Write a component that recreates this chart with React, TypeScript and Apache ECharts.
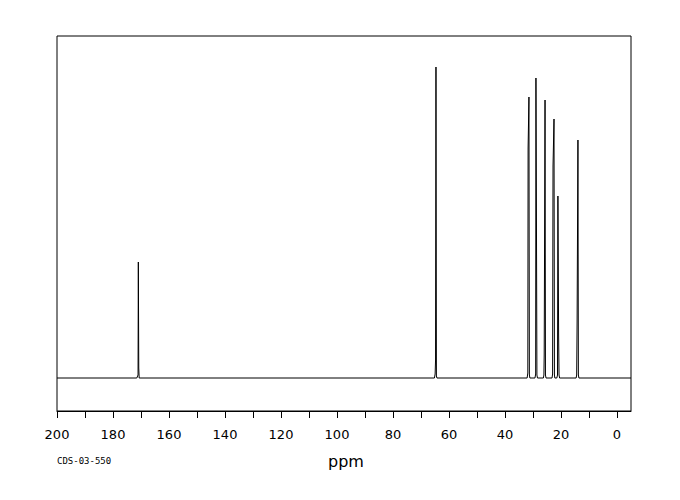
import React, { useEffect, useRef } from "react";
import * as echarts from "echarts";

// Spectrum trace: [chemical shift (ppm), intensity]
const spectrum: [number, number][] = [
  [200, 0],
  [171.5, 0], [171.05, 3], [170.95, 116], [170.8, 10], [170.65, 0],
  [65.2, 0], [64.95, 4], [64.8, 18], [64.65, 311], [64.5, 2], [64.3, 0],
  [32.1, 0], [31.85, 5], [31.75, 230], [31.45, 281], [31.3, 3], [31.1, 0],
  [29.3, 0], [29.05, 4], [28.95, 300], [28.75, 141], [28.6, 3], [28.4, 0],
  [26.3, 0], [26.1, 3], [26.0, 23], [25.7, 278], [25.55, 3], [25.35, 0],
  [23.2, 0], [23.0, 4], [22.85, 212], [22.5, 259], [22.35, 3], [22.2, 0],
  [21.5, 0], [21.25, 3], [21.1, 182], [20.85, 43], [20.7, 3], [20.5, 0],
  [14.6, 0], [14.4, 3], [14.25, 56], [13.95, 238], [13.8, 3], [13.6, 0],
  [-5, 0],
];

const tickValues = [0, 10, 20, 30, 40, 50, 60, 70, 80, 90, 100, 110, 120, 130, 140, 150, 160, 170, 180, 190, 200];
const labelValues = [0, 20, 40, 60, 80, 100, 120, 140, 160, 180, 200];
const xTitle = "ppm";
const sampleId = "CDS-03-550";

export default function App() {
  const ref = useRef<HTMLDivElement>(null);
  useEffect(() => {
    if (!ref.current) return;
    const chart = echarts.init(ref.current, null, { renderer: "svg" });
    chart.setOption({
      animation: false,
      backgroundColor: "#fff",
      grid: {
        left: 57,
        right: 49,
        top: 36,
        bottom: 89,
        show: true,
        borderColor: "#000",
        borderWidth: 1,
        backgroundColor: "transparent",
      },
      xAxis: {
        type: "value",
        min: -5,
        max: 200,
        inverse: true,
        axisLine: { show: true, onZero: false, lineStyle: { color: "#000", width: 1 } },
        axisTick: {
          show: true,
          inside: false,
          length: 7,
          customValues: tickValues,
          lineStyle: { color: "#000", width: 1 },
        },
        axisLabel: {
          show: true,
          customValues: labelValues,
          color: "#000",
          fontFamily: "DejaVu Sans",
          fontSize: 13,
          margin: 17,
        },
        splitLine: { show: false },
      },
      yAxis: {
        type: "value",
        min: -33,
        max: 342,
        show: false,
        splitLine: { show: false },
      },
      series: [
        {
          type: "line",
          data: spectrum,
          symbol: "none",
          lineStyle: { color: "#000", width: 1 },
          silent: true,
        },
      ],
      graphic: [
        {
          type: "text",
          left: 328,
          top: 453,
          style: {
            text: xTitle,
            fill: "#000",
            font: '16px "DejaVu Sans"',
          },
        },
        {
          type: "text",
          left: 57,
          top: 456,
          style: {
            text: sampleId,
            fill: "#000",
            font: '9px "DejaVu Sans Mono"',
          },
        },
      ],
    });
    return () => chart.dispose();
  }, []);
  return <div ref={ref} style={{ width: 680, height: 500, position: "absolute", left: 0, top: 0 }} />;
}
